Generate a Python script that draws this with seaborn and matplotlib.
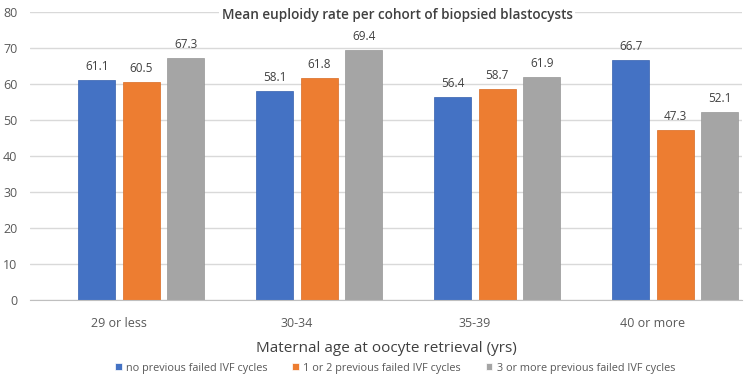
import pandas as pd
import numpy as np
import matplotlib.pyplot as plt
import seaborn as sns

age_groups = ['29 or less', '30-34', '35-39', '40 or more']
spacer = [0, 0, 0, 0]  # empty series that shifts the bars right in the original chart
no_failed = [61.1, 58.1, 56.4, 66.7]
one_two_failed = [60.5, 61.8, 58.7, 47.3]
three_more_failed = [67.3, 69.4, 61.9, 52.1]
series_names = ['', 'no previous failed IVF cycles', '1 or 2 previous failed IVF cycles',
                '3 or more previous failed IVF cycles']
y_ticks = [0, 10, 20, 30, 40, 50, 60, 70, 80]

data = pd.DataFrame({
    'age': age_groups * 4,
    'series': np.repeat(series_names, 4),
    'rate': spacer + no_failed + one_two_failed + three_more_failed,
})

sns.set_style('white')
plt.rcParams['font.family'] = ['Open Sans', 'DejaVu Sans']

colors = ['#FFFFFF', '#4472C4', '#ED7D31', '#A5A5A5']
edges = ['#FFFFFF', '#3560AE', '#D96B22', '#979797']

fig = plt.figure(figsize=(7.44, 3.76), dpi=100)
ax = fig.add_axes([30 / 744, 1 - 300 / 376, 712 / 744, 288 / 376])

sns.barplot(data=data, x='age', y='rate', hue='series', hue_order=series_names,
            order=age_groups, palette=colors, saturation=1, width=1.0, gap=0.17, ax=ax,
            linewidth=0.5, edgecolor=None)

for i, cont in enumerate(ax.containers):
    for bar in cont:
        bar.set_edgecolor(edges[i])
    if i > 0:
        ax.bar_label(cont, fmt='%.1f', padding=5, fontsize=8.5, color='#404040')

ax.set_xlim(-0.5, 3.5)
ax.set_ylim(0, 80)
ax.set_yticks(y_ticks)
ax.yaxis.grid(True, color='#D9D9D9', linewidth=1)
ax.set_axisbelow(True)
sns.despine(ax=ax, left=True, top=True, right=True, bottom=False)
ax.spines['bottom'].set_color('#BFBFBF')
ax.tick_params(axis='both', length=0, labelsize=9, labelcolor='#595959')
ax.tick_params(axis='x', pad=12)
ax.tick_params(axis='y', pad=9)
ax.set_ylabel('')
ax.set_xlabel('Maternal age at oocyte retrieval (yrs)', fontsize=11, color='#404040', labelpad=8)

fig.text(397 / 744, 1 - 15 / 376, 'Mean euploidy rate per cohort of biopsied blastocysts',
         ha='center', va='center', fontsize=9.8, color='#404040', fontweight='semibold',
         bbox=dict(facecolor='white', edgecolor='none', pad=2))

handles, labels = ax.get_legend_handles_labels()
keep = [k for k, lab in enumerate(labels) if lab]
ax.legend([handles[k] for k in keep], [labels[k] for k in keep], ncol=3, frameon=False,
          loc='center', bbox_to_anchor=(395 / 744, 1 - 368 / 376), bbox_transform=fig.transFigure,
          fontsize=7.8, labelcolor='#595959', handlelength=0.6, handleheight=0.6,
          handletextpad=0.4, columnspacing=2.3)

fig.savefig('out.png', dpi=100)
